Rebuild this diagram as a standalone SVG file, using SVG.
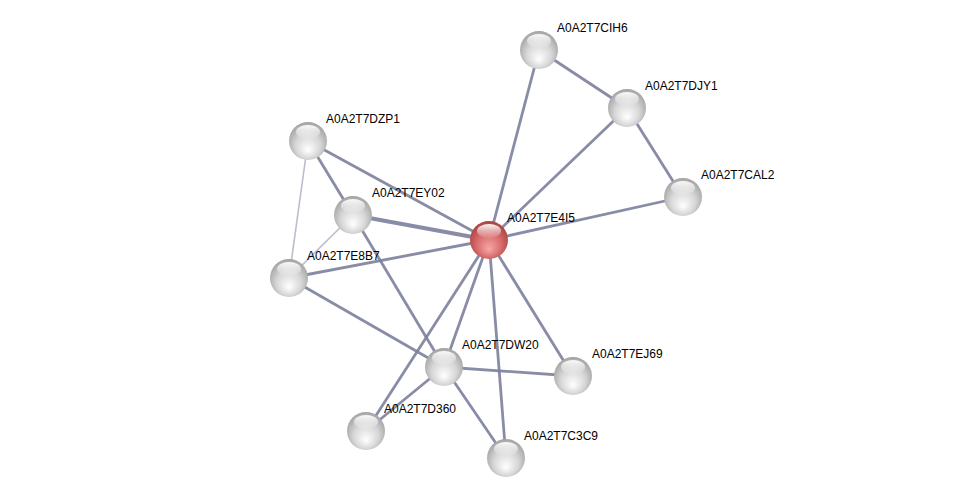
<svg xmlns="http://www.w3.org/2000/svg" width="976" height="503" viewBox="0 0 976 503">
<style>
.e{stroke:#7b7f9c;stroke-width:2.8;stroke-opacity:0.9;fill:none}
.t{stroke-width:4}
.l{stroke:#b4b6c8;stroke-width:1.6}
text{font-family:"Liberation Sans",Arial,sans-serif;font-size:12px;fill:#000}
</style>
<defs>
<radialGradient id="g" cx="0.5" cy="0.55" r="0.6" fx="0.5" fy="0.75">
<stop offset="0" stop-color="#ffffff"/>
<stop offset="0.55" stop-color="#d6d6d6"/>
<stop offset="1" stop-color="#9a9a9a"/>
</radialGradient>
<radialGradient id="r" cx="0.5" cy="0.55" r="0.6" fx="0.5" fy="0.75">
<stop offset="0" stop-color="#f7a8a8"/>
<stop offset="0.55" stop-color="#d86a6a"/>
<stop offset="1" stop-color="#a23c3c"/>
</radialGradient>
<linearGradient id="h" x1="0" y1="0" x2="0" y2="1">
<stop offset="0" stop-color="#fff" stop-opacity="0.95"/>
<stop offset="1" stop-color="#fff" stop-opacity="0.05"/>
</linearGradient>
<g id="hl"><ellipse cx="0" cy="-9" rx="12" ry="7" fill="url(#h)"/></g>
</defs>
<rect width="976" height="503" fill="#fff"/>
<g id="edges">
<line class="e" x1="489" y1="240" x2="539" y2="50"/>
<line class="e" x1="489" y1="240" x2="627" y2="108"/>
<line class="e" x1="489" y1="240" x2="683" y2="197"/>
<line class="e" x1="539" y1="50" x2="627" y2="108"/>
<line class="e" x1="627" y1="108" x2="683" y2="197"/>
<line class="e" x1="489" y1="240" x2="308" y2="141"/>
<line class="e t" x1="489" y1="240" x2="353" y2="215"/>
<line class="e" x1="489" y1="240" x2="289" y2="278"/>
<line class="e" x1="489" y1="240" x2="444" y2="367"/>
<line class="e" x1="489" y1="240" x2="573" y2="376"/>
<line class="e" x1="489" y1="240" x2="506" y2="458"/>
<line class="e" x1="489" y1="240" x2="366" y2="431"/>
<line class="e" x1="308" y1="141" x2="353" y2="215"/>
<line class="e l" x1="308" y1="141" x2="289" y2="278"/>
<line class="e l" x1="353" y1="215" x2="289" y2="278"/>
<line class="e" x1="353" y1="215" x2="444" y2="367"/>
<line class="e" x1="289" y1="278" x2="444" y2="367"/>
<line class="e" x1="444" y1="367" x2="573" y2="376"/>
<line class="e" x1="444" y1="367" x2="506" y2="458"/>
<line class="e" x1="444" y1="367" x2="366" y2="431"/>
</g>
<g id="CIH6"><circle cx="539" cy="50" r="19" fill="url(#g)"/><use href="#hl" x="539" y="50"/><text x="557" y="32">A0A2T7CIH6</text></g>
<g id="DJY1"><circle cx="627" cy="108" r="19" fill="url(#g)"/><use href="#hl" x="627" y="108"/><text x="645" y="90">A0A2T7DJY1</text></g>
<g id="CAL2"><circle cx="683" cy="197" r="19" fill="url(#g)"/><use href="#hl" x="683" y="197"/><text x="701" y="179">A0A2T7CAL2</text></g>
<g id="DZP1"><circle cx="308" cy="141" r="19" fill="url(#g)"/><use href="#hl" x="308" y="141"/><text x="326" y="123">A0A2T7DZP1</text></g>
<g id="EY02"><circle cx="353" cy="215" r="19" fill="url(#g)"/><use href="#hl" x="353" y="215"/><text x="372" y="197">A0A2T7EY02</text></g>
<g id="E8B7"><circle cx="289" cy="278" r="19" fill="url(#g)"/><use href="#hl" x="289" y="278"/><text x="307" y="260">A0A2T7E8B7</text></g>
<g id="DW20"><circle cx="444" cy="367" r="19" fill="url(#g)"/><use href="#hl" x="444" y="367"/><text x="462" y="349">A0A2T7DW20</text></g>
<g id="EJ69"><circle cx="573" cy="376" r="19" fill="url(#g)"/><use href="#hl" x="573" y="376"/><text x="592" y="358">A0A2T7EJ69</text></g>
<g id="D360"><circle cx="366" cy="431" r="19" fill="url(#g)"/><use href="#hl" x="366" y="431"/><text x="384" y="413">A0A2T7D360</text></g>
<g id="C3C9"><circle cx="506" cy="458" r="19" fill="url(#g)"/><use href="#hl" x="506" y="458"/><text x="524" y="440">A0A2T7C3C9</text></g>
<g id="E4I5"><circle cx="489" cy="240" r="19" fill="url(#r)"/><use href="#hl" x="489" y="240"/><text x="507" y="222">A0A2T7E4I5</text></g>
</svg>
